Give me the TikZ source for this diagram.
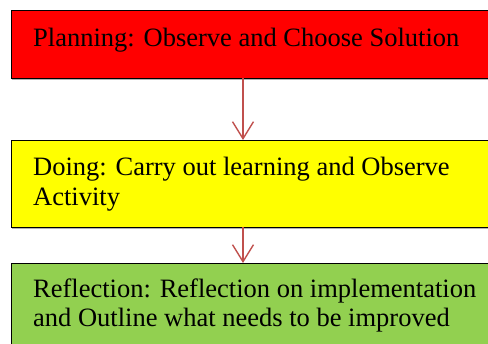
\documentclass[tikz,border=0pt]{standalone}
\usepackage{fontspec}
\setmainfont{Liberation Serif}
\usetikzlibrary{arrows.meta}
\definecolor{boxred}{HTML}{FF0000}
\definecolor{boxyellow}{HTML}{FFFF00}
\definecolor{boxgreen}{HTML}{92D050}
\definecolor{arrowred}{HTML}{C0504D}
\tikzset{
  stagebox/.style={draw=black, line width=0.9pt, anchor=north west, inner sep=0pt, outer sep=0pt,
    minimum width=490pt},
  shadowbox/.style={fill=black!30, draw=none},
  stagetext/.style={anchor=base west, inner sep=0pt, align=left,
    font=\fontsize{26.5}{29.5}\selectfont},
  flow/.style={draw=arrowred, line width=1.4pt, -{Straight Barb[length=17pt,width=21pt,line width=1.4pt]}}
}
\begin{document}
\begin{tikzpicture}[x=1pt,y=-1pt]
\useasboundingbox (0,0) rectangle (488,344);
\clip (0,0) rectangle (488,344);
% shadows
\fill[shadowbox] (12,11.5) rectangle (501,80);
\fill[shadowbox] (12,141.5) rectangle (501,229);
% boxes
\node[stagebox, fill=boxred, minimum height=68pt] (plan) at (11,10) {};
\node[stagebox, fill=boxyellow, minimum height=87pt] (do) at (11,140) {};
\node[stagebox, fill=boxgreen, minimum height=95pt] (refl) at (11,263) {};
% texts (base anchor = baseline of last line)
\node[stagetext] (plant) at (33,47) {Planning: Observe and Choose Solution};
\node[stagetext] (dot) at (33,205.5) {Doing: Carry out learning and Observe\\Activity};
\node[stagetext] (reflt) at (33,327) {Reflection: Reflection on implementation\\and Outline what needs to be improved};
% arrows
\coordinate (a1) at (243,78);
\coordinate (b1) at (243,140);
\coordinate (a2) at (243,227);
\coordinate (b2) at (243,263);
\draw[flow] (a1) -- (b1);
\draw[flow] (a2) -- (b2);
\end{tikzpicture}
\end{document}
